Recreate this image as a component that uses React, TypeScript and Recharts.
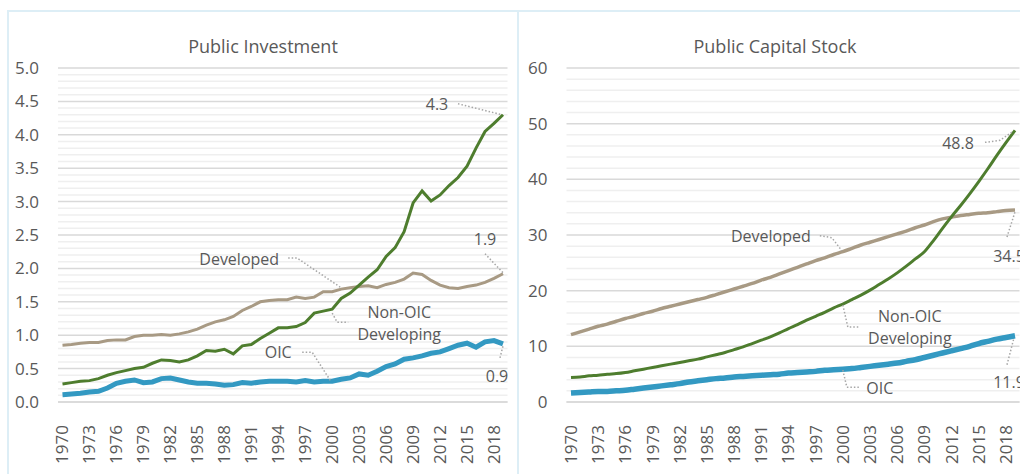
import React from 'react';
import { LineChart, Line, XAxis, YAxis, CartesianGrid, ReferenceLine } from 'recharts';

const years = [
  '1970', '1971', '1972', '1973', '1974', '1975', '1976', '1977', '1978', '1979',
  '1980', '1981', '1982', '1983', '1984', '1985', '1986', '1987', '1988', '1989',
  '1990', '1991', '1992', '1993', '1994', '1995', '1996', '1997', '1998', '1999',
  '2000', '2001', '2002', '2003', '2004', '2005', '2006', '2007', '2008', '2009',
  '2010', '2011', '2012', '2013', '2014', '2015', '2016', '2017', '2018', '2019',
];

// Public investment
const invDeveloped = [
  0.85, 0.86, 0.88, 0.89, 0.89, 0.92, 0.93, 0.93, 0.98, 1.0,
  1.0, 1.01, 1.0, 1.02, 1.05, 1.09, 1.15, 1.2, 1.23, 1.28,
  1.37, 1.43, 1.5, 1.52, 1.53, 1.53, 1.57, 1.55, 1.57, 1.65,
  1.65, 1.69, 1.71, 1.73, 1.74, 1.71, 1.76, 1.79, 1.84, 1.93,
  1.91, 1.82, 1.75, 1.71, 1.7, 1.73, 1.75, 1.79, 1.85, 1.92,
];
const invNonOic = [
  0.27, 0.29, 0.31, 0.32, 0.35, 0.4, 0.44, 0.47, 0.5, 0.52,
  0.58, 0.63, 0.62, 0.6, 0.63, 0.69, 0.77, 0.76, 0.79, 0.72,
  0.84, 0.86, 0.95, 1.03, 1.11, 1.11, 1.13, 1.19, 1.33, 1.36,
  1.39, 1.55, 1.63, 1.75, 1.87, 1.98, 2.18, 2.31, 2.55, 2.98,
  3.16, 3.01, 3.1, 3.24, 3.36, 3.53, 3.8, 4.05, 4.17, 4.3,
];
const invOic = [
  0.11, 0.12, 0.13, 0.15, 0.16, 0.21, 0.28, 0.31, 0.33, 0.29,
  0.3, 0.35, 0.36, 0.33, 0.3, 0.28, 0.28, 0.27, 0.25, 0.26,
  0.29, 0.28, 0.3, 0.31, 0.31, 0.31, 0.3, 0.32, 0.3, 0.31,
  0.31, 0.34, 0.36, 0.42, 0.4, 0.46, 0.53, 0.57, 0.64, 0.66,
  0.69, 0.73, 0.75, 0.8, 0.85, 0.88, 0.82, 0.9, 0.92, 0.87,
];

// Public capital stock
const capDeveloped = [
  12.1, 12.6, 13.1, 13.6, 14.0, 14.5, 15.0, 15.4, 15.9, 16.3,
  16.8, 17.2, 17.6, 18.0, 18.4, 18.8, 19.3, 19.8, 20.3, 20.8,
  21.3, 21.9, 22.4, 23.0, 23.6, 24.2, 24.8, 25.4, 25.9, 26.5,
  27.0, 27.6, 28.2, 28.7, 29.2, 29.7, 30.2, 30.7, 31.3, 31.8,
  32.4, 32.9, 33.2, 33.5, 33.7, 33.9, 34.0, 34.2, 34.4, 34.5,
];
const capNonOic = [
  4.4, 4.5, 4.7, 4.8, 5.0, 5.1, 5.3, 5.6, 5.9, 6.2,
  6.5, 6.8, 7.1, 7.4, 7.7, 8.1, 8.5, 8.9, 9.4, 9.9,
  10.5, 11.1, 11.7, 12.4, 13.2, 13.9, 14.7, 15.4, 16.1, 16.9,
  17.6, 18.4, 19.2, 20.1, 21.1, 22.1, 23.2, 24.4, 25.7, 27.0,
  29.0, 31.2, 33.3, 35.3, 37.4, 39.6, 41.9, 44.3, 46.6, 48.8,
];
const capOic = [
  1.6, 1.7, 1.8, 1.9, 1.9, 2.0, 2.1, 2.3, 2.5, 2.7,
  2.9, 3.1, 3.3, 3.6, 3.8, 4.0, 4.2, 4.3, 4.5, 4.6,
  4.7, 4.8, 4.9, 5.0, 5.2, 5.3, 5.4, 5.5, 5.7, 5.8,
  5.9, 6.0, 6.2, 6.4, 6.6, 6.8, 7.0, 7.3, 7.6, 8.0,
  8.4, 8.8, 9.2, 9.6, 10.0, 10.5, 10.9, 11.3, 11.6, 11.9,
];

const invTicks = [0, 0.5, 1, 1.5, 2, 2.5, 3, 3.5, 4, 4.5, 5];
const capTicks = [0, 10, 20, 30, 40, 50, 60];

const TEXT = '#595959';
const FONT = '"Open Sans", "Noto Sans", sans-serif';
const C_DEV = '#A89A84';
const C_NON = '#4E7D2E';
const C_OIC = '#3399C2';

type Note = { year: string; lines: string[]; dx: number; dy: number; path: number[][] };

// label offsets / leader lines relative to the annotated point
const invNotes: Record<string, Note[]> = {
  developed: [
    { year: '2001', lines: ['Developed'], dx: -102, dy: -30, path: [[-53, -31], [-44, -31], [-1, -2]] },
    { year: '2019', lines: ['1.9'], dx: -18, dy: -34, path: [[-18, -20], [0, -1]] },
  ],
  nonOic: [
    { year: '2000', lines: ['Non-OIC', 'Developing'], dx: 67, dy: 3, path: [[0, 4], [5, 13], [16, 13]] },
    { year: '2019', lines: ['4.3'], dx: -66, dy: -10, path: [[-45, -11], [-1, 0]] },
  ],
  oic: [
    { year: '2000', lines: ['OIC'], dx: -54, dy: -29, path: [[-30, -29], [-20, -29], [-2, -1]] },
    { year: '2019', lines: ['0.9'], dx: -6, dy: 33, path: [[-3, 14], [0, 2]] },
  ],
};
const capNotes: Record<string, Note[]> = {
  developed: [
    { year: '2000', lines: ['Developed'], dx: -72, dy: -15, path: [[-23, -16], [-11, -14], [-1, -1]] },
    { year: '2019', lines: ['34.5'], dx: -6, dy: 46, path: [[-8, 27], [0, 2]] },
  ],
  nonOic: [
    { year: '2000', lines: ['Non-OIC', 'Developing'], dx: 67, dy: 12, path: [[0, 1], [5, 23], [17, 23]] },
    { year: '2019', lines: ['48.8'], dx: -57, dy: 13, path: [[-30, 12], [-15, 10], [-2, 1]] },
  ],
  oic: [
    { year: '2000', lines: ['OIC'], dx: 37, dy: 19, path: [[0, 1], [4, 18], [16, 18]] },
    { year: '2019', lines: ['11.9'], dx: -6, dy: 47, path: [[-8, 29], [-1, 2]] },
  ],
};

const makeRows = (dev: number[], non: number[], oic: number[]) =>
  years.map((year, i) => ({ year, developed: dev[i], nonOic: non[i], oic: oic[i] }));

const invRows = makeRows(invDeveloped, invNonOic, invOic);
const capRows = makeRows(capDeveloped, capNonOic, capOic);

const makeLabel = (notes: Note[]) => (props: any) => {
  const { x, y, index } = props;
  const note = notes.find((n) => years.indexOf(n.year) === index);
  if (!note || x == null || y == null) return <g key={`e${index}`} />;
  const d = note.path.map((p, i) => `${i ? 'L' : 'M'}${x + p[0]},${y + p[1]}`).join(' ');
  return (
    <g key={`n${index}`}>
      <path d={d} fill="none" stroke="#A6A6A6" strokeWidth={1.5} strokeDasharray="1.5 2" />
      {note.lines.map((t, i) => (
        <text
          key={t}
          x={x + note.dx}
          y={y + note.dy + i * 22}
          dy="0.35em"
          textAnchor="middle"
          fill={TEXT}
          fontSize={16}
          fontFamily={FONT}
        >
          {t}
        </text>
      ))}
    </g>
  );
};

const YearTick = (props: any) => {
  const { x, y, payload } = props;
  return (
    <g transform={`translate(${x},${y + 15})`}>
      <text transform="rotate(-90)" textAnchor="end" dy="0.35em" fill={TEXT} fontSize={17} fontFamily={FONT}>
        {payload.value}
      </text>
    </g>
  );
};

const minorValues = (max: number, step: number, every: number) => {
  const out: number[] = [];
  for (let i = 1; i * step < max - 1e-9; i++) {
    if (i % every !== 0) out.push(+(i * step).toFixed(2));
  }
  return out;
};

interface PanelProps {
  rows: any[];
  notes: Record<string, Note[]>;
  ticks: number[];
  max: number;
  minorStep: number;
  fmt: (v: number) => string;
  width: number;
  yWidth: number;
  right: number;
  curve: 'linear' | 'monotone';
  widths: [number, number, number];
}

const Panel = ({ rows, notes, ticks, max, minorStep, fmt, width, yWidth, right, curve, widths }: PanelProps) => (
  <LineChart width={width} height={474} data={rows} margin={{ top: 68, right, bottom: 12, left: 0 }}>
    <CartesianGrid vertical={false} stroke="#D9D9D9" strokeWidth={1.5} />
    {minorValues(max, minorStep, 5).map((v) => (
      <ReferenceLine key={v} y={v} stroke="#EFEFEF" strokeWidth={1.5} />
    ))}
    <XAxis
      dataKey="year"
      interval={2}
      height={60}
      tick={<YearTick />}
      tickLine={false}
      axisLine={{ stroke: '#D9D9D9', strokeWidth: 1.5 }}
      padding={{ left: 4.5, right: 4.5 }}
    />
    <YAxis
      domain={[0, max]}
      ticks={ticks}
      width={yWidth}
      tickFormatter={fmt}
      tickLine={false}
      axisLine={false}
      tickSize={0}
      tickMargin={19}
      tick={{ fill: TEXT, fontSize: 17, fontFamily: FONT }}
    />
    <Line
      dataKey="developed"
      type={curve}
      stroke={C_DEV}
      strokeWidth={widths[0]}
      dot={false}
      isAnimationActive={false}
      label={makeLabel(notes.developed)}
    />
    <Line
      dataKey="nonOic"
      type={curve}
      stroke={C_NON}
      strokeWidth={widths[1]}
      dot={false}
      isAnimationActive={false}
      label={makeLabel(notes.nonOic)}
    />
    <Line
      dataKey="oic"
      type={curve}
      stroke={C_OIC}
      strokeWidth={widths[2]}
      dot={false}
      isAnimationActive={false}
      label={makeLabel(notes.oic)}
    />
  </LineChart>
);

const titleStyle: React.CSSProperties = {
  position: 'absolute',
  top: 37,
  width: 512,
  textAlign: 'center',
  fontFamily: FONT,
  fontSize: 18,
  lineHeight: '18px',
  color: TEXT,
};

export default function App() {
  return (
    <div
      style={{
        position: 'fixed',
        left: 0,
        top: 0,
        width: 1020,
        height: 474,
        overflow: 'hidden',
        background: '#fff',
      }}
    >
      <div
        style={{
          position: 'absolute',
          left: 7,
          top: 10,
          width: 508,
          height: 520,
          border: '2px solid #DDEEF6',
        }}
      />
      <div
        style={{
          position: 'absolute',
          left: 517,
          top: 10,
          width: 560,
          height: 520,
          border: '2px solid #DDEEF6',
        }}
      />
      <div style={{ ...titleStyle, left: 7 }}>Public Investment</div>
      <div style={{ ...titleStyle, left: 519 }}>Public Capital Stock</div>
      <div style={{ position: 'absolute', left: 0, top: 0 }}>
        <Panel
          rows={invRows}
          notes={invNotes}
          ticks={invTicks}
          max={5}
          minorStep={0.1}
          fmt={(v) => v.toFixed(1)}
          width={513}
          yWidth={58}
          right={5.5}
          curve="linear"
          widths={[3, 3, 5]}
        />
      </div>
      <div style={{ position: 'absolute', left: 519, top: 0 }}>
        <Panel
          rows={capRows}
          notes={capNotes}
          ticks={capTicks}
          max={60}
          minorStep={2}
          fmt={(v) => String(v)}
          width={512}
          yWidth={47.5}
          right={11.5}
          curve="monotone"
          widths={[3.5, 3, 5.5]}
        />
      </div>
    </div>
  );
}
